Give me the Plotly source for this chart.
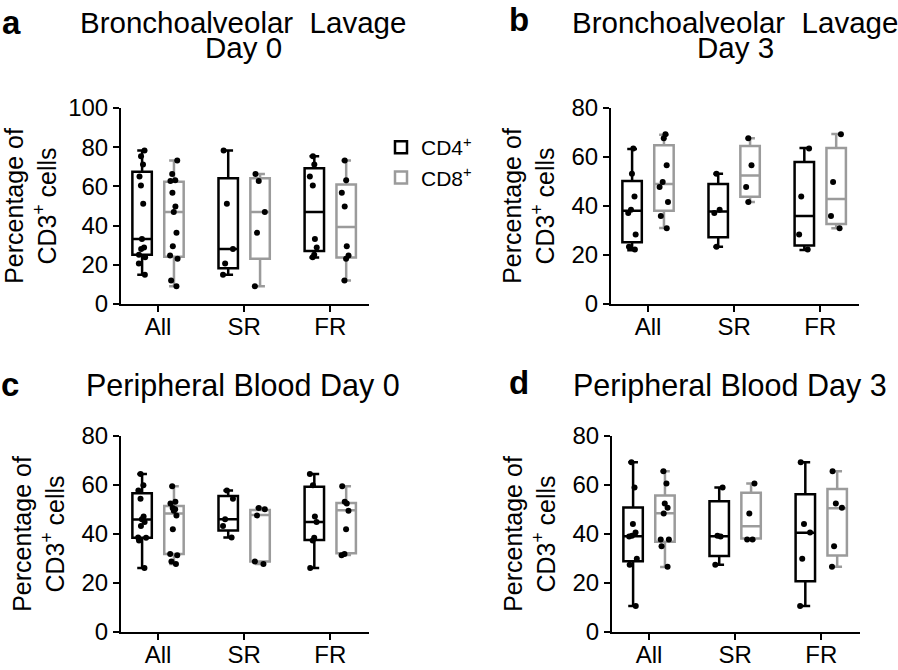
import plotly.graph_objects as go

categories = ["All", "SR", "FR"]

# box statistics per category: [lowerfence, q1, median, q3, upperfence]
bal0_cd4_box = [[14.9, 25.1, 33.2, 67.5, 78.3], [14.9, 18.3, 28.1, 64.1, 78.3], [23.7, 27.1, 46.9, 69.2, 75.4]]
bal0_cd8_box = [[9.0, 24.1, 46.9, 62.4, 73.2], [9.0, 23.1, 46.9, 64.1, 66.3], [12.0, 23.7, 39.3, 61.0, 73.2]]
bal3_cd4_box = [[21.9, 25.2, 38.1, 50.2, 63.3], [23.4, 27.2, 37.8, 49.0, 53.2], [22.0, 23.9, 35.9, 58.0, 63.7]]
bal3_cd8_box = [[31.0, 38.1, 49.0, 64.8, 69.1], [41.6, 43.8, 52.4, 64.5, 67.7], [30.9, 32.7, 42.9, 63.7, 69.4]]
pb0_cd4_box = [[26.1, 38.5, 45.9, 56.6, 64.5], [38.6, 41.4, 46.0, 55.5, 57.8], [26.1, 37.6, 44.9, 59.3, 64.5]]
pb0_cd8_box = [[27.8, 31.8, 48.4, 51.4, 59.5], [27.8, 28.8, 47.8, 49.8, 50.6], [31.4, 32.1, 49.7, 52.7, 59.5]]
pb3_cd4_box = [[10.6, 28.9, 39.1, 50.8, 69.3], [27.4, 31.0, 39.1, 53.4, 59.0], [10.6, 20.7, 40.5, 56.2, 69.3]]
pb3_cd8_box = [[26.5, 36.8, 48.5, 55.7, 65.6], [37.8, 38.2, 43.2, 56.8, 60.6], [26.6, 31.2, 50.5, 58.4, 65.6]]

# individual patient values (All = SR + FR)
bal0_cd4_sr = [78.3, 51.2, 28.1, 20.7, 14.9]
bal0_cd4_fr = [75.4, 71.2, 65.1, 60.5, 33.2, 28.8, 25.1, 23.9]
bal0_cd8_sr = [66.3, 62.7, 46.9, 36.3, 9.0]
bal0_cd8_fr = [73.2, 63.1, 56.8, 49.7, 29.5, 24.7, 23.1, 12.0]
bal3_cd4_sr = [53.2, 38.5, 37.1, 23.4]
bal3_cd4_fr = [63.5, 43.9, 28.4, 22.2]
bal3_cd8_sr = [67.7, 56.6, 47.8, 41.6]
bal3_cd8_fr = [69.3, 49.8, 35.9, 30.9]
pb0_cd4_sr = [57.8, 54.4, 46.0, 43.3, 38.6]
pb0_cd4_fr = [64.5, 59.9, 47.1, 44.9, 38.5, 37.3, 26.1]
pb0_cd8_sr = [50.6, 50.1, 47.6, 28.8, 27.8]
pb0_cd8_fr = [59.5, 53.2, 52.5, 49.5, 41.9, 31.8, 31.3]
pb3_cd4_sr = [59.0, 39.3, 39.0, 27.4]
pb3_cd4_fr = [69.3, 44.1, 40.6, 29.9, 10.6]
pb3_cd8_sr = [60.6, 48.4, 37.8, 37.8]
pb3_cd8_fr = [65.6, 52.4, 50.7, 35.0, 26.6]

panel_titles = [["Bronchoalveolar\u00a0 Lavage", "Day 0"], ["Bronchoalveolar\u00a0 Lavage", "Day 3"],
                ["Peripheral Blood Day 0"], ["Peripheral Blood Day 3"]]
panel_letters = ["a", "b", "c", "d"]
series_names = ["CD4<sup>+</sup>", "CD8<sup>+</sup>"]
y_title = "Percentage of<br>CD3<sup>+</sup> cells"
y_max = [100, 80, 80, 80]

FONT = "Liberation Sans, Arial, Helvetica, sans-serif"
W, H = 898, 670
colors = ["#000000", "#9b9b9b"]

panels = [
    (bal0_cd4_box, bal0_cd8_box, bal0_cd4_sr, bal0_cd4_fr, bal0_cd8_sr, bal0_cd8_fr),
    (bal3_cd4_box, bal3_cd8_box, bal3_cd4_sr, bal3_cd4_fr, bal3_cd8_sr, bal3_cd8_fr),
    (pb0_cd4_box, pb0_cd8_box, pb0_cd4_sr, pb0_cd4_fr, pb0_cd8_sr, pb0_cd8_fr),
    (pb3_cd4_box, pb3_cd8_box, pb3_cd4_sr, pb3_cd4_fr, pb3_cd8_sr, pb3_cd8_fr),
]

# pixel layout of plot areas: (left, right, top, bottom)
areas = [(121, 369, 108, 304), (611, 859, 108, 304), (121, 369, 436, 632), (612, 860, 436, 632)]

fig = go.Figure()
for p, (b4, b8, s4, f4, s8, f8) in enumerate(panels):
    ax = "" if p == 0 else str(p + 1)
    for k, (box, sr, fr) in enumerate([(b4, s4, f4), (b8, s8, f8)]):
        fig.add_trace(go.Box(
            x=categories,
            lowerfence=[b[0] for b in box], q1=[b[1] for b in box], median=[b[2] for b in box],
            q3=[b[3] for b in box], upperfence=[b[4] for b in box],
            y=[sr + fr, sr, fr],
            boxpoints="all", jitter=0.55, pointpos=0,
            marker=dict(color="black", size=6),
            line=dict(color=colors[k], width=2.5),
            fillcolor="rgba(255,255,255,1)",
            whiskerwidth=0.5,
            name=series_names[k], legendgroup=series_names[k], showlegend=(p == 0),
            alignmentgroup="panel%d" % p, offsetgroup="s%d" % k,
            xaxis="x" + ax, yaxis="y" + ax, hoverinfo="skip",
        ))

layout = dict(
    template="none",
    width=W, height=H, margin=dict(l=0, r=0, t=0, b=0, pad=0),
    plot_bgcolor="white", paper_bgcolor="white",
    font=dict(family=FONT, color="black", size=24),
    boxmode="group", boxgap=0.26, boxgroupgap=0.39,
    legend=dict(x=381 / W, y=1 - 127 / H, xanchor="left", yanchor="top",
                font=dict(size=21), bgcolor="rgba(0,0,0,0)", tracegroupgap=0, borderwidth=0),
    annotations=[],
)
for p, (l, r, t, b) in enumerate(areas):
    ax = "" if p == 0 else str(p + 1)
    layout["xaxis" + ax] = dict(
        domain=[l / W, r / W], anchor="y" + ax, type="category", range=[-0.43, 2.45],
        showline=True, linewidth=2, linecolor="black", ticks="outside", ticklen=6, tickwidth=2,
        tickcolor="black", showgrid=False, zeroline=False, tickfont=dict(size=24),
        ticklabelstandoff=-6, automargin=False, fixedrange=True)
    layout["yaxis" + ax] = dict(
        domain=[1 - b / H, 1 - t / H], anchor="x" + ax, range=[0, y_max[p]], dtick=20,
        showline=True, linewidth=2, linecolor="black", ticks="outside", ticklen=6, tickwidth=2,
        tickcolor="black", showgrid=False, zeroline=False, tickfont=dict(size=24),
        title=dict(text=y_title, font=dict(size=25), standoff=10), automargin=False,
        fixedrange=True)

ann = layout["annotations"]
# panel titles: (center x, [line center y], font size)
title_pos = [(243, [23, 48], 29.5), (735, [23, 48], 29.5), (243, [385], 30.5), (730, [385], 30.5)]
for p, (cx, ys, fs) in enumerate(title_pos):
    for line, yy in zip(panel_titles[p], ys):
        ann.append(dict(text=line, x=cx / W, y=1 - yy / H, xref="paper", yref="paper",
                        xanchor="center", yanchor="middle", showarrow=False,
                        font=dict(size=fs)))
letter_pos = [(11, 22), (519, 20), (10, 384), (519, 382)]
for p, (lx, ly) in enumerate(letter_pos):
    ann.append(dict(text="<b>" + panel_letters[p] + "</b>", x=lx / W, y=1 - ly / H, xref="paper",
                    yref="paper", xanchor="center", yanchor="middle", showarrow=False,
                    font=dict(size=33)))

fig.update_layout(**layout)
fig.write_html("out.html", config={"displayModeBar": False, "staticPlot": True},
               post_script="document.body.style.margin='0';document.body.style.overflow='hidden';")
